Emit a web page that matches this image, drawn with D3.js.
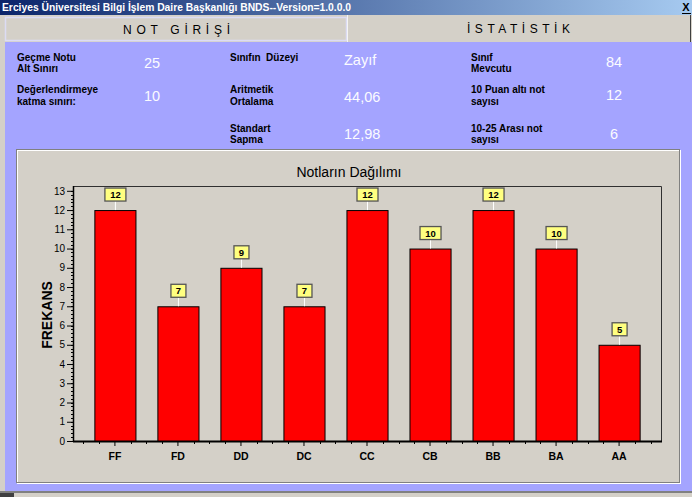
<!DOCTYPE html>
<html>
<head>
<meta charset="utf-8">
<script src="https://cdn.jsdelivr.net/npm/d3@7"></script>
<style>
  body { margin: 0; background: #d4d0c8; }
  svg { display: block; font-family: "Liberation Sans", Arial, sans-serif; }
</style>
</head>
<body>
<script>
// chart data
var grades = ["FF", "FD", "DD", "DC", "CC", "CB", "BB", "BA", "AA"];
var counts = [12, 7, 9, 7, 12, 10, 12, 10, 5];
var yTickValues = [0, 1, 2, 3, 4, 5, 6, 7, 8, 9, 10, 11, 12, 13];

// window texts
var windowTitle = "Erciyes Üniversitesi Bilgi İşlem Daire Başkanlığı BNDS--Version=1.0.0.0";
var tabNames = ["NOT GİRİŞİ", "İSTATİSTİK"];
var chartTitle = "Notların Dağılımı";
var yTitle = "FREKANS";

// statistics block
var infoLabels = [
  ["Geçme Notu", "Alt Sınırı"],
  ["Değerlendirmeye", "katma sınırı:"],
  ["Sınıfın  Düzeyi"],
  ["Aritmetik", "Ortalama"],
  ["Standart", "Sapma"],
  ["Sınıf", "Mevcutu"],
  ["10 Puan altı not", "sayısı"],
  ["10-25 Arası not", "sayısı"]
];
var infoValues = ["25", "10", "Zayıf", "44,06", "12,98", "84", "12", "6"];

var width = 692, height = 497;

var svg = d3.select("body").append("svg")
    .attr("width", width)
    .attr("height", height);

var defs = svg.append("defs");
var grad = defs.append("linearGradient").attr("id", "titleGrad");
grad.append("stop").attr("offset", "0%").attr("stop-color", "#0a246a");
grad.append("stop").attr("offset", "100%").attr("stop-color", "#a6caf0");

// window frame
svg.append("rect").attr("width", width).attr("height", height).attr("fill", "#d4d0c8");
svg.append("rect").attr("x", 0).attr("y", 0).attr("width", width).attr("height", 15)
    .attr("fill", "url(#titleGrad)");
svg.append("text")
    .attr("x", 2).attr("y", 11)
    .attr("textLength", 349).attr("lengthAdjust", "spacingAndGlyphs")
    .style("font-size", "11px").style("font-weight", "bold").style("fill", "#fff")
    .text(windowTitle);
svg.append("text")
    .attr("x", 686).attr("y", 11).attr("text-anchor", "middle")
    .style("font-size", "11px").style("font-weight", "bold").style("fill", "#000")
    .text("X");
svg.append("line").attr("x1", 682).attr("x2", 691).attr("y1", 13.5).attr("y2", 13.5)
    .attr("stroke", "#000");

// tabs
svg.append("rect").attr("x", 5.5).attr("y", 17.5).attr("width", 341).attr("height", 23)
    .attr("fill", "#d4d0c8").attr("stroke", "#dcdcf4").attr("stroke-width", 1.5);
svg.append("rect").attr("x", 347).attr("y", 15).attr("width", 343).attr("height", 27)
    .attr("fill", "#d4d0c8");
svg.append("line").attr("x1", 347.5).attr("x2", 347.5).attr("y1", 15).attr("y2", 42)
    .attr("stroke", "#f4f4f4");
svg.append("line").attr("x1", 690.5).attr("x2", 690.5).attr("y1", 15).attr("y2", 42)
    .attr("stroke", "#404040");
svg.append("text")
    .attr("x", 123).attr("y", 33.5)
    .attr("textLength", 107).attr("lengthAdjust", "spacing")
    .style("font-size", "12px").style("fill", "#000")
    .text(tabNames[0]);
svg.append("text")
    .attr("x", 467).attr("y", 32.5)
    .attr("textLength", 103).attr("lengthAdjust", "spacing")
    .style("font-size", "12px").style("fill", "#000")
    .text(tabNames[1]);

// blue panel
svg.append("rect").attr("x", 5).attr("y", 42).attr("width", 687).attr("height", 449)
    .attr("fill", "#a4a4ff");
svg.append("line").attr("x1", 0).attr("x2", width).attr("y1", 492).attr("y2", 492)
    .attr("stroke", "#808080").attr("stroke-width", 2);
svg.append("rect").attr("x", 0).attr("y", 493).attr("width", 14).attr("height", 4)
    .attr("fill", "#404040");

// statistics labels and values
var infoPos = [
  {lx: 17, ly: 61, vx: 152, vy: 68, anchor: "middle"},
  {lx: 17, ly: 93.3, vx: 152, vy: 101, anchor: "middle"},
  {lx: 230, ly: 61, vx: 344, vy: 64.5, anchor: "start"},
  {lx: 230, ly: 93.3, vx: 344, vy: 101.5, anchor: "start"},
  {lx: 230, ly: 131.7, vx: 344, vy: 139, anchor: "start"},
  {lx: 471, ly: 61, vx: 614, vy: 67.3, anchor: "middle"},
  {lx: 471, ly: 93.3, vx: 614, vy: 100, anchor: "middle"},
  {lx: 471, ly: 131.7, vx: 614, vy: 139, anchor: "middle"}
];

var info = svg.append("g").selectAll("g")
    .data(infoLabels)
    .enter().append("g");

info.each(function(lines, i) {
  var p = infoPos[i];
  var g = d3.select(this);
  lines.forEach(function(t, j) {
    g.append("text")
      .attr("x", p.lx).attr("y", p.ly + j * 11.3)
      .style("font-size", "10px").style("font-weight", "bold").style("fill", "#000")
      .style("white-space", "pre")
      .text(t);
  });
  g.append("text")
    .attr("x", p.vx).attr("y", p.vy)
    .attr("text-anchor", p.anchor)
    .style("font-size", "14.5px").style("fill", "#fbfbff")
    .text(infoValues[i]);
});

// chart panel (etched border)
svg.append("rect").attr("x", 17.5).attr("y", 150.5).attr("width", 663).attr("height", 333)
    .attr("fill", "#d4d0c8").attr("stroke", "#ffffff");
svg.append("rect").attr("x", 16.5).attr("y", 149.5).attr("width", 663).attr("height", 333)
    .attr("fill", "none").attr("stroke", "#808080");

svg.append("text")
    .attr("x", 349).attr("y", 177).attr("text-anchor", "middle")
    .style("font-size", "14px").style("fill", "#000")
    .text(chartTitle);

svg.append("text")
    .attr("transform", "translate(51.5,315) rotate(-90)")
    .attr("text-anchor", "middle")
    .style("font-size", "14px").style("font-weight", "bold").style("fill", "#000")
    .text(yTitle);

// plot area
var plotL = 73, plotR = 661, plotT = 186, plotB = 441;

var x = d3.scaleBand()
    .domain(grades)
    .range([plotL, plotR])
    .paddingInner(0.348)
    .paddingOuter(0.339);

var y = d3.scaleLinear()
    .domain([0, 13.25])
    .range([plotB, plotT]);

// frame top/right
svg.append("path")
    .attr("d", "M" + plotL + "," + (plotT + 0.5) + "H" + (plotR + 0.5) + "V" + plotB)
    .attr("fill", "none").attr("stroke", "#303030");

// bars
svg.append("g").selectAll("rect")
    .data(counts)
    .enter().append("rect")
    .attr("x", function(d, i) { return x(grades[i]) + 0.5; })
    .attr("y", function(d) { return y(d) + 0.5; })
    .attr("width", x.bandwidth())
    .attr("height", function(d) { return plotB - y(d); })
    .attr("fill", "#ff0000")
    .attr("stroke", "#000");

// y axis
var yAxis = d3.axisLeft(y).tickValues(yTickValues).tickSize(6).tickPadding(2)
    .tickFormat(d3.format("d"));
var ya = svg.append("g").attr("transform", "translate(" + plotL + ",0)").call(yAxis);
ya.select(".domain").remove();
ya.selectAll("text").style("font-size", "10px").style("font-family", "Liberation Sans, Arial, sans-serif").style("fill", "#000");
ya.selectAll("line").attr("stroke", "#000");

var minorY = d3.range(0, 66).map(function(k) { return k * 0.2; });
svg.append("g").selectAll("line")
    .data(minorY)
    .enter().append("line")
    .attr("x1", plotL - 2).attr("x2", plotL)
    .attr("y1", function(d) { return Math.round(y(d)) + 0.5; })
    .attr("y2", function(d) { return Math.round(y(d)) + 0.5; })
    .attr("stroke", "#000");

svg.append("line").attr("x1", plotL + 0.5).attr("x2", plotL + 0.5)
    .attr("y1", plotT).attr("y2", plotB + 1)
    .attr("stroke", "#000").attr("stroke-width", 1.5);

// x axis
var xAxis = d3.axisBottom(x).tickSize(5).tickPadding(7);
var xa = svg.append("g").attr("transform", "translate(0," + plotB + ")").call(xAxis);
xa.select(".domain").remove();
xa.selectAll("text").style("font-size", "10.5px").style("font-weight", "bold")
    .style("font-family", "Liberation Sans, Arial, sans-serif").style("fill", "#000");
xa.selectAll("line").attr("stroke", "#000");

var step = x.step();
var minorX = [];
grades.forEach(function(g) {
  var c = x(g) + x.bandwidth() / 2;
  minorX.push(c - step / 2, c - step / 4, c + step / 4);
});
minorX.push(x(grades[grades.length - 1]) + x.bandwidth() / 2 + step / 2);
svg.append("g").selectAll("line")
    .data(minorX)
    .enter().append("line")
    .attr("x1", function(d) { return Math.round(d) + 0.5; })
    .attr("x2", function(d) { return Math.round(d) + 0.5; })
    .attr("y1", plotB).attr("y2", plotB + 3)
    .attr("stroke", "#000");

svg.append("line").attr("x1", plotL).attr("x2", plotR + 1)
    .attr("y1", plotB + 0.5).attr("y2", plotB + 0.5)
    .attr("stroke", "#000").attr("stroke-width", 2);

// value labels
var lab = svg.append("g").selectAll("g")
    .data(counts)
    .enter().append("g")
    .attr("transform", function(d, i) {
      return "translate(" + (x(grades[i]) + x.bandwidth() / 2) + "," + y(d) + ")";
    });

lab.append("line")
    .attr("x1", 0.5).attr("x2", 0.5).attr("y1", 0).attr("y2", -9)
    .attr("stroke", "#ffffff");

lab.append("rect")
    .attr("x", function(d) { return d >= 10 ? -10 : -7; })
    .attr("y", -22)
    .attr("width", function(d) { return d >= 10 ? 21 : 15; })
    .attr("height", 13)
    .attr("fill", "#ffff80")
    .attr("stroke", "#555").attr("stroke-width", 1.3);

lab.append("text")
    .attr("x", 0.5).attr("y", -12)
    .attr("text-anchor", "middle")
    .style("font-size", "9.5px").style("font-weight", "bold").style("fill", "#000")
    .text(function(d) { return d; });
</script>
</body>
</html>
